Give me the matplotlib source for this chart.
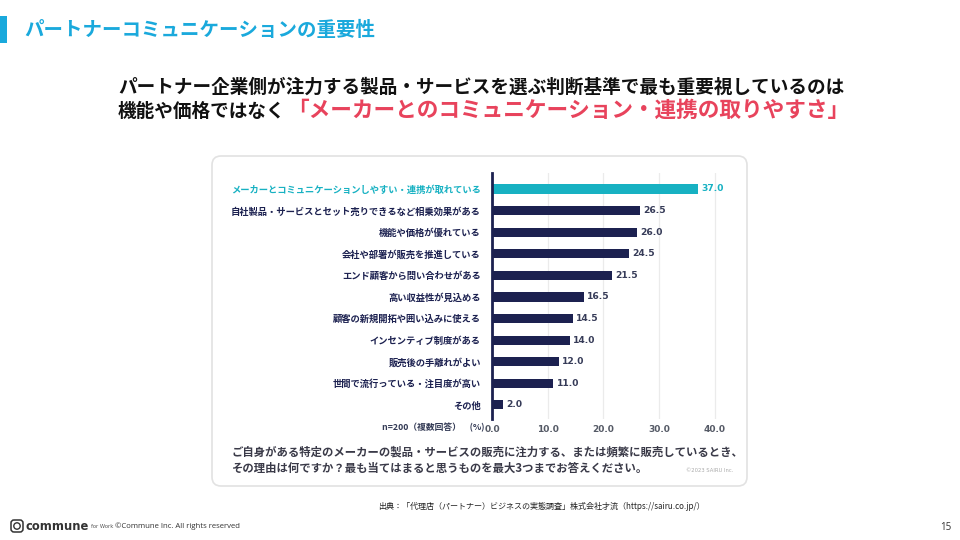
import matplotlib
matplotlib.use("Agg")
import matplotlib.pyplot as plt
from matplotlib.patches import FancyBboxPatch, Rectangle

plt.rcParams['font.family'] = ['Noto Sans CJK JP', 'DejaVu Sans']

# データ
labels = [
    "メーカーとコミュニケーションしやすい・連携が取れている",
    "自社製品・サービスとセット売りできるなど相乗効果がある",
    "機能や価格が優れている",
    "会社や部署が販売を推進している",
    "エンド顧客から問い合わせがある",
    "高い収益性が見込める",
    "顧客の新規開拓や囲い込みに使える",
    "インセンティブ制度がある",
    "販売後の手離れがよい",
    "世間で流行っている・注目度が高い",
    "その他",
]
values = [37.0, 26.5, 26.0, 24.5, 21.5, 16.5, 14.5, 14.0, 12.0, 11.0, 2.0]
xticks = [0, 10, 20, 30, 40]
xtick_labels = ["0.0", "10.0", "20.0", "30.0", "40.0"]

TEAL = "#17b1c2"
NAVY = "#1c2150"
BLUE = "#1aa9dc"
PINK = "#e8435c"

fig = plt.figure(figsize=(9.6, 5.4), dpi=100)

# 背景（ピクセル座標）
bg = fig.add_axes([0, 0, 1, 1], zorder=0)
bg.set_xlim(0, 960)
bg.set_ylim(540, 0)
bg.axis("off")

bg.add_patch(Rectangle((0, 16), 7, 27, color=BLUE, lw=0))
bg.text(24, 30, "パートナーコミュニケーションの重要性", fontsize=14, color=BLUE,
        fontweight="bold", va="center", ha="left")

bg.text(481, 87, "パートナー企業側が注力する製品・サービスを選ぶ判断基準で最も重要視しているのは",
        fontsize=13.4, fontweight="bold", color="#111111", ha="center", va="center")
bg.text(285, 111, "機能や価格ではなく", fontsize=13.4, fontweight="bold",
        color="#111111", ha="right", va="center")
bg.text(287, 110, "「メーカーとのコミュニケーション・連携の取りやすさ」", fontsize=15.6,
        fontweight="bold", color=PINK, ha="left", va="center")

# カード
bg.add_patch(FancyBboxPatch((212, 156), 535, 330,
                            boxstyle="round,pad=0,rounding_size=9",
                            fc="white", ec="#e2e2e2", lw=1.2))

bg.text(484, 428, "n=200（複数回答）　(%)", fontsize=6.3, fontweight="bold",
        color="#333a55", ha="right", va="center")
bg.text(232, 452, "ご自身がある特定のメーカーの製品・サービスの販売に注力する、または頻繁に販売しているとき、",
        fontsize=8.2, fontweight="bold", color="#3a3a48", ha="left", va="center")
bg.text(232, 468, "その理由は何ですか？最も当てはまると思うものを最大3つまでお答えください。",
        fontsize=8.2, fontweight="bold", color="#3a3a48", ha="left", va="center")
bg.text(733, 470, "©2023 SAIRU Inc.", fontsize=3.8, color="#aaaaaa",
        ha="right", va="center", family="DejaVu Sans")

bg.text(378, 506, "出典：「代理店（パートナー）ビジネスの実態調査」株式会社才流（https://sairu.co.jp/）",
        fontsize=5.8, color="#222222", ha="left", va="center")

# フッター
bg.add_patch(FancyBboxPatch((11, 520), 12, 12, boxstyle="round,pad=0,rounding_size=3",
                            fc="none", ec="#333333", lw=1.1))
bg.add_patch(plt.Circle((17, 526), 3.2, fc="none", ec="#333333", lw=1.0))
bg.text(25, 526, "commune", fontsize=8.3, fontweight="bold", color="#333333",
        ha="left", va="center", family="DejaVu Sans")
bg.text(91, 527, "for Work", fontsize=3.8, color="#555555", ha="left", va="center",
        family="DejaVu Sans")
bg.text(115, 526, "©Commune Inc. All rights reserved", fontsize=5.6, color="#333333",
        ha="left", va="center", family="Open Sans")
bg.text(951, 527, "15", fontsize=7, color="#333333", ha="right", va="center",
        family="Open Sans")

# グラフ
left, right, top, bottom = 492, 726, 173, 419
ax = fig.add_axes([left / 960, 1 - bottom / 540, (right - left) / 960, (bottom - top) / 540],
                  zorder=1)
ax.patch.set_alpha(0)
ypos = list(range(len(values)))
colors = [TEAL] + [NAVY] * (len(values) - 1)
ax.barh(ypos, values, height=0.42, color=colors, zorder=2)
ax.set_xlim(0, 42)
ax.set_ylim(10.65, -0.74)
ax.set_xticks(xticks)
ax.set_xticklabels(xtick_labels, fontsize=6.5, fontweight="bold", color="#555a66",
                   family="DejaVu Sans")
ax.tick_params(axis="x", length=0, pad=4)
ax.set_yticks(ypos)
ax.set_yticklabels(labels, fontsize=6.7, fontweight="bold")
for t, c in zip(ax.get_yticklabels(), [TEAL] + [NAVY] * (len(labels) - 1)):
    t.set_color(c)
ax.tick_params(axis="y", length=0, pad=8)
ax.grid(axis="x", color="#ebebeb", lw=0.9, zorder=0)
for s in ["top", "right", "bottom"]:
    ax.spines[s].set_visible(False)
ax.spines["left"].set_color(NAVY)
ax.spines["left"].set_linewidth(2)
ax.spines["left"].set_zorder(3)

for y, v, c in zip(ypos, values, colors):
    ax.text(v + 0.6, y, f"{v:.1f}", fontsize=6.6, fontweight="bold",
            color=TEAL if c == TEAL else "#363b58", va="center", ha="left",
            family="DejaVu Sans")

fig.savefig("out.png", dpi=100)
